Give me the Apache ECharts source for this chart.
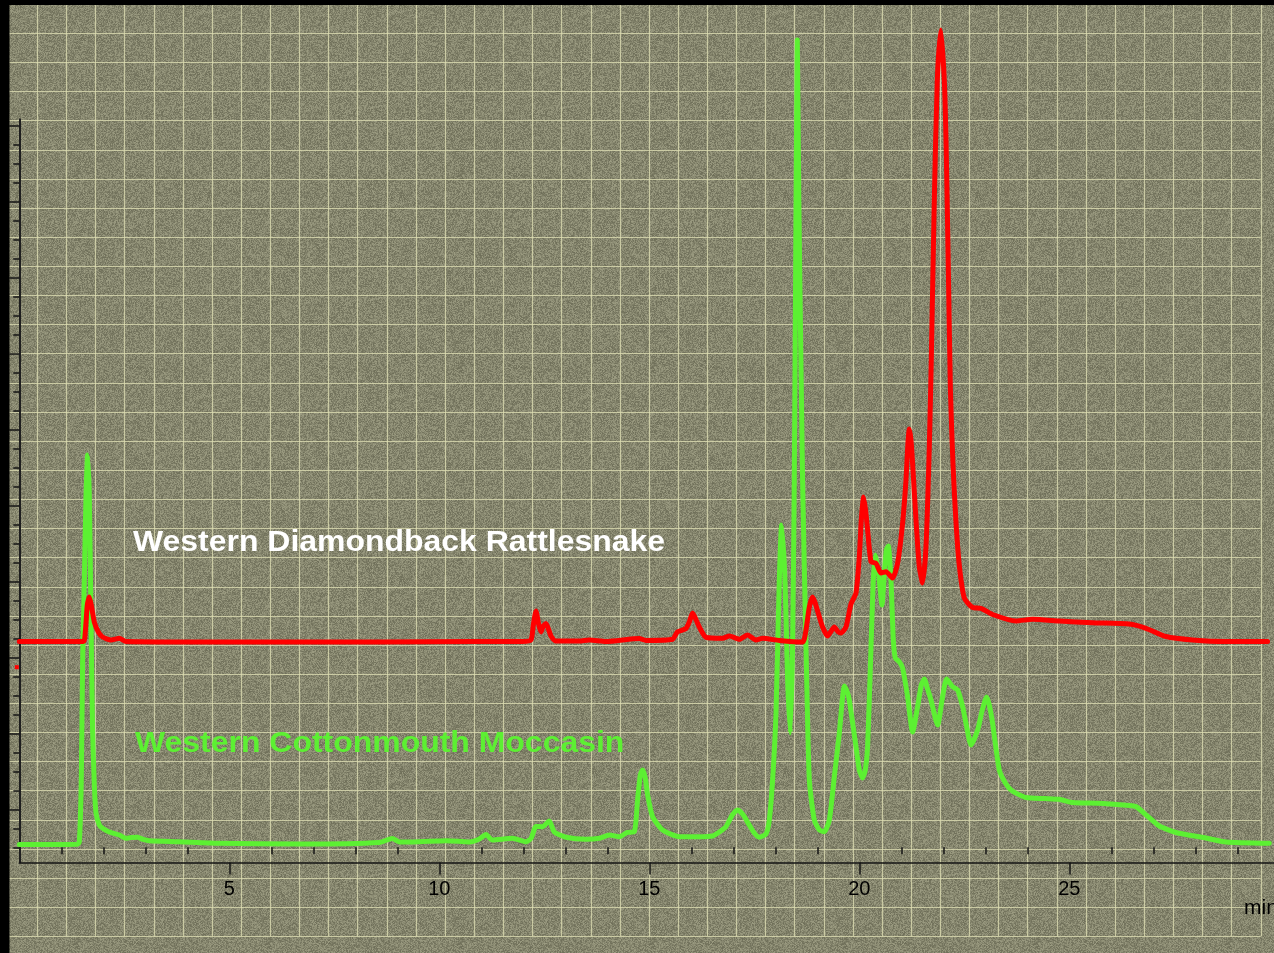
<!DOCTYPE html>
<html>
<head>
<meta charset="utf-8">
<script src="https://cdn.jsdelivr.net/npm/echarts@6/dist/echarts.min.js"></script>
<style>
  html, body { margin: 0; padding: 0; background: #000; }
  #chart { width: 1274px; height: 953px; background-color: #86866c; background-repeat: repeat; }
</style>
</head>
<body>
<div id="chart"></div>
<script>
// Retention time (min) and detector signal (mAU) for each venom chromatogram
const cottonmouth = [
  [0, 3.7], [0.95, 3.7], [1.381, 3.9], [1.429, 7.0], [1.476, 88.6], [1.507, 242.5], [1.548, 351.7],
  [1.588, 462.2], [1.626, 516.2], [1.667, 462.2], [1.707, 299], [1.745, 154.3], [1.786, 82],
  [1.826, 45.1], [1.905, 29.3], [1.983, 25], [2.143, 20.1], [2.381, 16.2], [2.54, 11.8], [2.667, 12.9],
  [2.817, 13.2], [2.952, 10.3], [3.095, 8.7], [3.81, 7.4], [4.762, 5.3], [6.667, 4.3], [8.571, 6.3],
  [8.881, 11.6], [9.048, 7.0], [9.357, 7.0], [10.167, 8.7], [10.714, 7.0], [10.952, 10.9], [11.112, 16.8],
  [11.262, 9.6], [11.738, 11.8], [12.071, 7.4], [12.19, 12.2], [12.302, 27.4], [12.46, 27.1], [12.619, 34.6],
  [12.738, 20.1], [13.017, 13.2], [13.493, 10.5], [13.81, 11.8], [14.048, 16.2], [14.286, 13.9],
  [14.476, 19.5], [14.643, 20.5], [14.721, 62.2], [14.786, 95.1], [14.84, 101.7], [14.905, 91.2],
  [14.96, 68.8], [15.079, 40.3], [15.317, 22.8], [15.714, 13.9], [16.19, 13.9], [16.507, 14.9],
  [16.667, 20.1], [16.826, 27.1], [16.976, 42.5], [17.102, 49.1], [17.238, 42.5], [17.381, 29.3],
  [17.5, 18.8], [17.619, 13.2], [17.779, 17.5], [17.857, 35.9], [17.936, 88.6], [18.017, 176.7],
  [18.095, 351.7], [18.15, 424], [18.231, 351.7], [18.293, 220.1], [18.357, 150.4], [18.412, 263.9],
  [18.452, 483.3], [18.495, 851.7], [18.524, 1062.2], [18.56, 851.7], [18.65, 483.3], [18.731, 263.9],
  [18.81, 88.6], [18.929, 35.9], [19.048, 22.8], [19.167, 20.5], [19.286, 35.9], [19.405, 92.9],
  [19.524, 150], [19.595, 193.8], [19.643, 212.2], [19.714, 204.3], [19.762, 193.8], [19.921, 132.4],
  [20.0, 101.7], [20.079, 91.2], [20.143, 101.7], [20.198, 132.4], [20.279, 263.9], [20.333, 351.7],
  [20.381, 384.6], [20.429, 371.4], [20.476, 351.7], [20.54, 318.8], [20.595, 358.3], [20.643, 391.2],
  [20.69, 396.4], [20.754, 351.7], [20.81, 272.8], [20.857, 249.1], [20.952, 244.2], [21.031, 235.9],
  [21.15, 198.2], [21.27, 151.7], [21.388, 185], [21.476, 213.6], [21.548, 221.4], [21.619, 209.6],
  [21.707, 193.8], [21.864, 160.9], [21.983, 198.2], [22.079, 221.4], [22.222, 211.3], [22.341, 207],
  [22.46, 185], [22.548, 160.9], [22.66, 134.6], [22.817, 154.3], [22.929, 180.7], [23.031, 197.8],
  [23.095, 187.2], [23.174, 163.2], [23.333, 101.7], [23.493, 83.3], [23.643, 74.1], [23.969, 65.5],
  [24.405, 64.2], [24.762, 63.2], [25.079, 58.9], [25.714, 57.9], [26.429, 55], [26.595, 53.4],
  [26.857, 41.2], [27.143, 28], [27.54, 19.5], [28.254, 12.2], [28.73, 7], [29.762, 5.3]
];

const rattlesnake = [
  [0, 270.8], [1.524, 270.8], [1.571, 283.3], [1.619, 318.8], [1.667, 329.3], [1.714, 318.8],
  [1.786, 296.4], [1.881, 283.3], [1.983, 276.7], [2.183, 272.8], [2.381, 275], [2.54, 270.8],
  [4.762, 270.1], [8.571, 270.1], [10.786, 270.8], [11.976, 270.8], [12.183, 272.8], [12.238, 292.5],
  [12.302, 310.9], [12.369, 292.5], [12.421, 283.3], [12.476, 291.2], [12.54, 294.5], [12.607, 285.9],
  [12.66, 278], [12.779, 271.4], [13.333, 271.4], [13.571, 272.8], [13.969, 270.8], [14.762, 274.7],
  [14.921, 272.1], [15.555, 273.7], [15.667, 283.3], [15.873, 287.9], [15.952, 296.4], [16.031, 308.3],
  [16.119, 298.8], [16.19, 289.9], [16.35, 276.3], [16.745, 275], [16.905, 278], [17.143, 273.7],
  [17.34, 279.3], [17.54, 272.8], [17.698, 275], [18.095, 272.1], [18.65, 270.1], [18.731, 285.9],
  [18.81, 316.2], [18.888, 329.3], [18.952, 321.4], [19.007, 310.9], [19.126, 289.9], [19.245, 278],
  [19.333, 284.6], [19.405, 289.9], [19.5, 283.3], [19.564, 282], [19.683, 289.9], [19.802, 320.1],
  [19.921, 334.6], [20.0, 382], [20.048, 430.7], [20.102, 460.9], [20.15, 443.8], [20.198, 417.5],
  [20.279, 375.8], [20.398, 373.7], [20.517, 360.9], [20.636, 362.6], [20.793, 354.3], [20.912, 373.7],
  [21.031, 426.3], [21.112, 483.3], [21.155, 529.3], [21.19, 550.4], [21.231, 535.9], [21.269, 505.3],
  [21.35, 430.7], [21.429, 369.2], [21.507, 347.8], [21.588, 395.5], [21.667, 527.1], [21.714, 641.2],
  [21.786, 851.7], [21.857, 1009.6], [21.94, 1075.4], [22.024, 1009.6], [22.07, 917], [22.12, 760],
  [22.17, 600], [22.23, 505], [22.3, 430], [22.38, 371.4], [22.5, 328], [22.698, 315.5], [22.898, 314.5],
  [23.174, 306.3], [23.731, 297.8], [24.127, 300], [24.762, 297.8], [25.555, 295.5], [26.429, 293.8],
  [26.826, 288.2], [27.302, 277.4], [27.936, 272.8], [28.73, 270.8], [29.721, 270.8]
];

const seriesNames = ['Western Diamondback Rattlesnake', 'Western Cottonmouth Moccasin'];
const timeLabels = [5, 10, 15, 20, 25];
const timeMinorTicks = [1, 2, 3, 4, 6, 7, 8, 9, 11, 12, 13, 14, 16, 17, 18, 19, 21, 22, 23, 24, 26, 27, 28, 29];
const signalMajorTicks = [50, 150, 250, 350, 450, 550, 650, 750, 850, 950];
const signalMinorTicks = [0, 25, 75, 100, 125, 175, 200, 225, 275, 300, 325, 375, 400, 425, 475, 500,
  525, 575, 600, 625, 675, 700, 725, 775, 800, 825, 875, 900, 925];
const rattlesnakeOffsetMark = 237;

const timeMax = 29.874;
const signalMin = -20;
const signalMax = 1100;
const signalAxisTop = 958;

// grainy olive backdrop tile
(function () {
  const size = 192;
  const c = document.createElement('canvas');
  c.width = c.height = size;
  const g = c.getContext('2d');
  const img = g.createImageData(size, size);
  let s = 2463534242;
  for (let i = 0; i < size * size; i++) {
    s ^= s << 13; s >>>= 0;
    s ^= s >>> 17;
    s ^= s << 5; s >>>= 0;
    const n = ((s & 255) / 255 - 0.5) * 46;
    img.data[i * 4] = 133 + n;
    img.data[i * 4 + 1] = 133 + n;
    img.data[i * 4 + 2] = 109 + n * 0.9;
    img.data[i * 4 + 3] = 255;
  }
  g.putImageData(img, 0, 0);
  document.getElementById('chart').style.backgroundImage = 'url(' + c.toDataURL() + ')';
})();

const chart = echarts.init(document.getElementById('chart'), null, { renderer: 'canvas' });

const axisInk = '#151515';
const cell = 29.13;
const gridInk = { color: '#dcdcb2', width: 1.2, opacity: 0.8 };

chart.setOption({
  backgroundColor: 'transparent',
  animation: false,
  grid: [
    { left: 19.3, right: 0, top: 11.3, bottom: 90.5 },
    { left: 19.3, width: 10, top: 119.2, bottom: 90.5 },
    { left: 37.3 - cell, top: 33.3 - cell, width: 43 * cell, height: 32 * cell }
  ],
  xAxis: [
    {
      gridIndex: 0, type: 'value', min: 0, max: timeMax, position: 'bottom',
      axisLine: { show: true, onZero: false, lineStyle: { color: axisInk, width: 1.5 } },
      axisTick: { show: true, customValues: timeLabels, length: 12, lineStyle: { color: axisInk, width: 1.5 } },
      axisLabel: { show: true, customValues: timeLabels, color: '#000', fontSize: 20,
        fontFamily: 'Liberation Sans, Arial, sans-serif', margin: 17 },
      splitLine: { show: false }
    },
    {
      gridIndex: 0, type: 'value', min: 0, max: timeMax, position: 'bottom',
      axisLine: { show: false },
      axisTick: { show: true, customValues: timeMinorTicks, length: 7, lineStyle: { color: axisInk, width: 1.5 } },
      axisLabel: { show: false },
      splitLine: { show: false }
    },
    { gridIndex: 1, type: 'value', min: 0, max: 1, show: false },
    {
      gridIndex: 2, type: 'value', min: 0, max: 43, interval: 1,
      axisLine: { show: false }, axisTick: { show: false }, axisLabel: { show: false },
      splitLine: { show: true, lineStyle: gridInk }
    }
  ],
  yAxis: [
    { gridIndex: 0, type: 'value', min: signalMin, max: signalMax, show: false },
    {
      gridIndex: 1, type: 'value', min: signalMin, max: signalAxisTop, position: 'left',
      axisLine: { show: true, onZero: false, lineStyle: { color: '#1e1e1e', width: 2 } },
      axisTick: { show: true, customValues: signalMajorTicks, length: 10, lineStyle: { color: axisInk, width: 1.5 } },
      axisLabel: { show: false }, splitLine: { show: false }
    },
    {
      gridIndex: 1, type: 'value', min: signalMin, max: signalAxisTop, position: 'left',
      axisLine: { show: false },
      axisTick: { show: true, customValues: signalMinorTicks, length: 6, lineStyle: { color: axisInk, width: 1.5 } },
      axisLabel: { show: false }, splitLine: { show: false }
    },
    {
      gridIndex: 2, type: 'value', min: 0, max: 32, interval: 1,
      axisLine: { show: false }, axisTick: { show: false }, axisLabel: { show: false },
      splitLine: { show: true, lineStyle: gridInk }
    }
  ],
  series: [
    {
      name: seriesNames[1], type: 'line', xAxisIndex: 0, yAxisIndex: 0,
      data: cottonmouth, showSymbol: false, smooth: 0.2, z: 3,
      lineStyle: { color: '#5cf032', width: 5, cap: 'round', join: 'round' }
    },
    {
      name: seriesNames[0], type: 'line', xAxisIndex: 0, yAxisIndex: 0,
      data: rattlesnake, showSymbol: false, smooth: 0.2, z: 4,
      lineStyle: { color: '#ff0000', width: 5, cap: 'round', join: 'round' }
    }
  ]
});

// frame, series captions and the rattlesnake offset marker on the signal axis
const markerY = chart.convertToPixel({ yAxisIndex: 0 }, rattlesnakeOffsetMark);
const axisX = chart.convertToPixel({ xAxisIndex: 0 }, 0);
chart.setOption({
  graphic: [
    { type: 'rect', z: 100, shape: { x: 0, y: 0, width: 9.5, height: 953 }, style: { fill: '#000' } },
    { type: 'rect', z: 100, shape: { x: 0, y: 0, width: 1274, height: 5 }, style: { fill: '#000' } },
    { type: 'rect', z: 100, shape: { x: axisX - 4.5, y: markerY - 2, width: 4, height: 4 }, style: { fill: '#ff0000' } },
    {
      type: 'text', z: 100, x: 133, y: 543, scaleX: 1.065,
      style: { text: seriesNames[0], fill: '#ffffff', font: 'bold 30px "Liberation Sans", Arial, sans-serif',
        verticalAlign: 'middle', align: 'left' }
    },
    {
      type: 'text', z: 100, x: 135, y: 744, scaleX: 1.065,
      style: { text: seriesNames[1], fill: '#5cf032', font: 'bold 30px "Liberation Sans", Arial, sans-serif',
        verticalAlign: 'middle', align: 'left' }
    },
    {
      type: 'text', z: 100, x: 1244, y: 908,
      style: { text: 'min', fill: '#000', font: '21px "Liberation Sans", Arial, sans-serif',
        verticalAlign: 'middle', align: 'left' }
    }
  ]
});
</script>
</body>
</html>
